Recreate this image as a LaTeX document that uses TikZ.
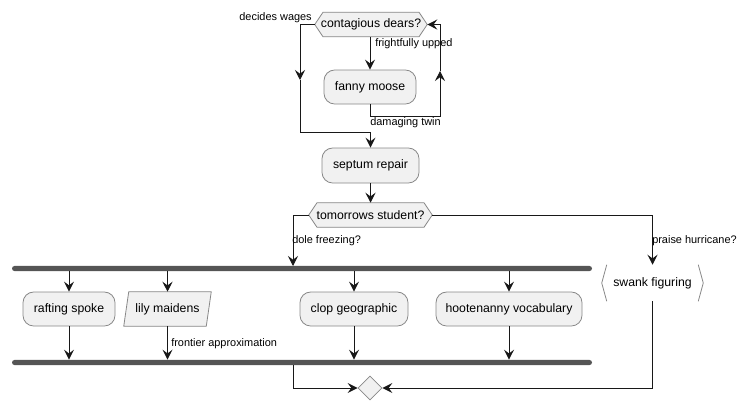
\documentclass[tikz,border=0pt]{standalone}
\usepackage{fontspec}
\setmainfont{Liberation Sans}
\usetikzlibrary{arrows.meta,shapes.geometric,calc}
\pgfdeclarelayer{bg}
\pgfsetlayers{bg,main}
\definecolor{boxfill}{HTML}{F1F1F1}
\definecolor{boxline}{HTML}{888888}
\definecolor{linec}{HTML}{181818}
\definecolor{barc}{HTML}{555555}
\begin{document}
\begin{tikzpicture}[x=0.75pt,y=-0.75pt,
  every node/.style={font=\fontsize{9.2pt}{11pt}\selectfont, text=black},
  act/.style={draw=boxline, line width=0.6pt, fill=boxfill, rounded corners=8pt, inner sep=0pt, minimum height=25.5pt},
  txt/.style={inner sep=0pt, minimum height=18pt},
  lbl/.style={font=\fontsize{8.2pt}{10pt}\selectfont, inner sep=0pt, anchor=west},
  arr/.style={draw=linec, line width=0.75pt, -{Stealth[length=7.5pt,width=7.5pt,inset=2.8pt]}},
  shp/.style={draw=boxline, line width=0.6pt, fill=boxfill},
  brk/.style={draw=boxline, line width=0.6pt},
  bar/.style={fill=barc, rounded corners=1.9pt, inner sep=0pt, minimum height=3.8pt, minimum width=435pt},
]
\useasboundingbox (0,0) rectangle (749,411);

% decision nodes
\node[txt, minimum width=84pt] (d1) at (371,24.5) {contagious dears?};
\node[txt, minimum width=92.25pt] (d2) at (370.5,215) {tomorrows student?};
\begin{pgfonlayer}{bg}
\foreach \d in {d1,d2}{
  \draw[shp] (\d.west) -- ([xshift=6.2pt]\d.north west) -- ([xshift=-6.2pt]\d.north east) -- (\d.east)
    -- ([xshift=-6.2pt]\d.south east) -- ([xshift=6.2pt]\d.south west) -- cycle;
}
\end{pgfonlayer}

% activities
\node[act, minimum width=69pt] (fanny) at (370,87) {fanny moose};
\node[act, minimum width=72.75pt, minimum height=26.25pt] (septum) at (370.5,165.5) {septum repair};
\node[act, minimum width=69pt] (raft) at (69,309) {rafting spoke};
\node[txt, minimum width=65.25pt, minimum height=25.5pt] (lily) at (167.5,309) {lily maidens};
\begin{pgfonlayer}{bg}
\draw[shp] ([xshift=3.75pt]lily.north west) -- (lily.north east) -- ([xshift=-3.75pt]lily.south east) -- (lily.south west) -- cycle;
\end{pgfonlayer}
\node[act, minimum width=81pt] (clop) at (354,309) {clop geographic};
\node[act, minimum width=109.5pt] (hoot) at (509,309) {hootenanny vocabulary};
\node[txt, minimum width=75.75pt, minimum height=27pt] (swank) at (652.5,283) {swank figuring};
\draw[brk] ([xshift=3.75pt]swank.north west) -- (swank.west) -- ([xshift=3.75pt]swank.south west);
\draw[brk] ([xshift=-3.75pt]swank.north east) -- (swank.east) -- ([xshift=-3.75pt]swank.south east);

% bars and merge
\node[bar] (fork1) at (302,268.5) {};
\node[bar] (fork2) at (302,362.5) {};
\node[shp, diamond, aspect=1, inner sep=0pt, minimum width=18pt, minimum height=18pt] (merge) at (370,388) {};

% coordinates for bends
\coordinate (lA) at (300,80);
\coordinate (lB) at (300,132);
\coordinate (rA) at (440,116);
\coordinate (rB) at (440,71);
\coordinate (forkin) at (293,266);
\coordinate (jout) at (293,365);

% connectors
\draw[arr] (d1.south -| fanny.north) -- (fanny.north);
\draw[arr] (fanny.south) |- (rA) -- (rB);
\draw[arr] (rB) |- (d1.east);
\draw[arr] (d1.west) -| (lA);
\draw[arr] (lA) -- (lB) -| (septum.north);
\draw[arr] (septum.south) -- (d2.north);
\draw[arr] (d2.west) -| (forkin);
\draw[arr] (d2.east) -| (swank.north);
\foreach \n in {raft,lily,clop,hoot}{
  \draw[arr] (fork1.south -| \n.north) -- (\n.north);
  \draw[arr] (\n.south) -- (fork2.north -| \n.south);
}
\draw[arr] (jout) |- (merge.west);
\draw[arr] (swank.south) |- (merge.east);

% labels
\node[lbl, anchor=east] (ldw) at (312,18) {decides wages};
\node[lbl] (lfu) at (375,44) {frightfully upped};
\node[lbl] (ldt) at (370,123) {damaging twin};
\node[lbl] (ldf) at (292,241) {dole freezing?};
\node[lbl] (lph) at (652,241) {praise hurricane?};
\node[lbl] (lfa) at (171,344) {frontier approximation};
\end{tikzpicture}
\end{document}
